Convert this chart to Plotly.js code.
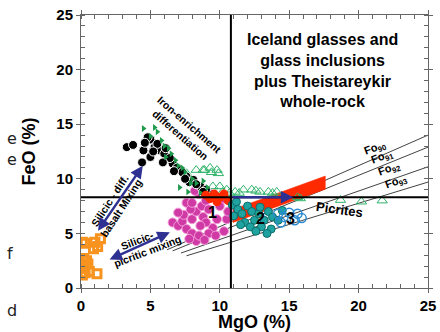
<!DOCTYPE html>
<html>
<head>
<meta charset="utf-8">
<script src="https://cdn.plot.ly/plotly-3.0.1.min.js"></script>
<style>html,body{margin:0;padding:0;background:#fff;}#chart{width:440px;height:332px;}</style>
</head>
<body>
<div id="chart"></div>
<script>
// ---- data ----
const orangeMgO = [0.1,0.3,0.9,1.0,1.4,1.2,0.1,0.2,0.4,0.5,0.3,0.1,0.6,1.15,0.2,0.05];
const orangeFeO = [4.2,4.1,3.6,4.2,4.5,3.8,2.2,1.8,2.5,2.2,1.4,1.2,1.5,1.3,2.7,1.8];

const blackMgO = [3.3,3.75,4.5,4.4,5.0,5.3,5.7,6.2,6.6,7.1,7.6,8.1,8.6,5.0,4.8,5.5,6.0,6.4,6.9,7.3,7.8,8.3,9.0,5.2,5.9,6.7,7.5,8.8,4.6,6.1];
const blackFeO = [12.9,13.1,12.6,11.5,13.6,12.9,12.6,12.0,11.4,10.8,10.2,9.9,9.3,12.0,13.8,13.2,12.3,11.9,11.0,10.6,9.7,9.5,9.0,12.5,11.5,10.7,10.0,8.8,13.3,12.8];

const greenMgO = [4.5,5.5,5.0,6.0,6.5,7.0,7.1,7.5,8.0,8.3,7.7,8.6,9.1,5.8,6.3,6.8,7.3,7.9,8.8,9.4,6.1,5.3];
const greenFeO = [14.6,14.3,13.9,13.0,12.3,11.2,9.2,10.6,10.0,9.6,8.8,8.7,9.2,13.5,12.8,11.7,11.0,9.6,9.8,8.6,12.0,14.7];

const triMgO = [7.6,8.3,8.9,9.4,9.9,9.3,9.8,10.0,10.5,9.5,10.2,10.7,11.1,11.7,12.3,12.9,13.5,14.1,15.6,15.8,18.7,20.2,21.7,8.8,11.4,12.6,13.8];
const triFeO = [10.5,10.8,10.8,10.6,10.5,11.0,10.8,9.3,9.0,9.3,8.8,8.7,8.8,9.0,9.0,8.8,8.8,8.8,8.3,8.2,8.05,7.9,8.0,10.8,8.7,8.9,8.7];

const magMgO = [6.6,7.0,7.3,7.6,8.0,8.3,8.5,8.0,8.3,8.7,9.0,8.8,9.2,9.5,9.8,9.2,10.0,10.3,9.6,8.5,8.2,7.6,7.9,7.4,9.0,9.7,10.3,10.5,8.6,9.3,10.6,8.0,7.0,7.8,8.9];
const magFeO = [6.0,5.7,6.1,5.4,5.0,4.3,4.8,6.3,7.0,7.5,8.0,6.5,7.2,5.5,6.3,5.0,7.5,8.2,8.5,8.6,8.9,7.8,7.2,6.7,6.0,4.8,5.2,6.3,5.7,8.6,7.0,7.8,6.9,4.5,4.4];

const tealMgO = [10.9,11.3,11.0,11.6,12.0,12.3,12.5,11.8,12.8,13.2,13.5,13.8,12.2,13.0,14.2,13.7,11.5,14.5,12.9,11.2,13.4,12.6];
const tealFeO = [7.6,7.2,6.6,6.8,7.5,7.0,6.2,6.0,6.8,6.2,7.0,6.5,5.6,5.6,6.2,5.4,5.8,7.1,7.4,7.9,5.0,5.2];

const blueMgO = [14.2,14.6,15.0,15.4,15.9,14.4,15.6];
const blueFeO = [6.8,6.5,6.9,6.2,6.4,6.0,6.8];

const redMgO = [9.3,9.6,10.0,10.3,9.8,10.6,9.0];
const redFeO = [8.2,8.6,8.3,8.6,7.9,8.0,8.5];

// red olivine-addition band (corner points)
const bandMgO = [10.95,17.6,17.6,10.95,10.95];
const bandFeO = [6.0,9.05,10.25,7.2,6.0];

// forsterite lines: start and end points
const foNames = ['90','91','92','93'];
const foStartMgO = [6.2,6.6,7.2,7.6];
const foStartFeO = [3.5,3.4,3.2,2.95];
const foEndMgO = [25,25,25,25];
const foEndFeO = [14.0,12.9,11.1,9.7];

// reference lines
const refMgO = 10.8;
const refFeO = 8.3;

// axis ticks
const tickVals = [0,5,10,15,20,25];
const tickText = ['0','5','10','15','20','25'];

// ---- traces ----
const traces = [];
for (let i = 0; i < foNames.length; i++) {
  traces.push({x:[foStartMgO[i], foEndMgO[i]], y:[foStartFeO[i], foEndFeO[i]], mode:'lines', type:'scatter',
    line:{color:'#111', width:0.8}, hoverinfo:'skip', showlegend:false});
}
traces.push({x:bandMgO, y:bandFeO, mode:'lines', fill:'toself', fillcolor:'#ff2a00', line:{color:'#ff2a00', width:0.5}, type:'scatter', showlegend:false});
traces.push({x:orangeMgO, y:orangeFeO, mode:'markers', type:'scatter', marker:{symbol:'square-open', size:8, color:'#f7931e', line:{width:3, color:'#f7931e'}}, showlegend:false});
traces.push({x:magMgO, y:magFeO, mode:'markers', type:'scatter', marker:{symbol:'circle', size:9, color:'#d03aa5', line:{width:1, color:'#f29ad8'}}, showlegend:false});
traces.push({x:triMgO, y:triFeO, mode:'markers', type:'scatter', marker:{symbol:'triangle-up-open', size:9, color:'#2fb36a', line:{width:1, color:'#2fb36a'}}, showlegend:false});
traces.push({x:blackMgO, y:blackFeO, mode:'markers', type:'scatter', marker:{symbol:'circle', size:9, color:'#000', line:{width:1, color:'#fff'}}, showlegend:false});
traces.push({x:greenMgO, y:greenFeO, mode:'markers', type:'scatter', marker:{symbol:'triangle-right', size:6, color:'#1f9a4c', line:{width:0}}, showlegend:false});
traces.push({x:redMgO, y:redFeO, mode:'markers', type:'scatter', marker:{symbol:'circle', size:9, color:'#ff2a00', line:{width:0}}, showlegend:false});
traces.push({x:tealMgO, y:tealFeO, mode:'markers', type:'scatter', marker:{symbol:'circle', size:8, color:'#1fa3a0', line:{width:1, color:'#0d6e6c'}}, showlegend:false});
traces.push({x:blueMgO, y:blueFeO, mode:'markers', type:'scatter', marker:{symbol:'circle-open', size:9, color:'#2a8bd0', line:{width:1.5, color:'#2a8bd0'}}, showlegend:false});

const F = 'Arial, "Liberation Sans", sans-serif';
const arrowBlue = '#2e3192';

const annotations = [
  {xref:'paper', yref:'paper', x:0.697, y:0.795, text:'Iceland glasses and<br>glass inclusions<br>plus Theistareykir<br>whole-rock',
   showarrow:false, font:{family:F, size:16, color:'#000', weight:'bold'}, align:'center', xanchor:'center', yanchor:'middle'},
  {x:7.5, y:14.5, text:'Iron-enrichment<br>differentiation', showarrow:false, textangle:41, font:{family:F, size:10.5, weight:'bold', color:'#000'}},
  {x:2.5, y:7.7, text:'Silicic - diff.<br>basalt Mixing', showarrow:false, textangle:-57, font:{family:F, size:10.5, weight:'bold', color:'#000'}},
  {x:4.2, y:3.8, text:'Silicic-<br>&nbsp;&nbsp;&nbsp;&nbsp;picritic mixing', showarrow:false, textangle:-21, font:{family:F, size:10.5, weight:'bold', color:'#000'}},
  {x:18.6, y:7.2, text:'Picrites', showarrow:false, textangle:8, font:{family:F, size:13, weight:'bold', color:'#000'}},
  {x:9.5, y:6.9, text:'1', showarrow:false, font:{family:F, size:16, weight:'bold', color:'#000'}},
  {x:12.9, y:6.4, text:'2', showarrow:false, font:{family:F, size:16, weight:'bold', color:'#000'}},
  {x:15.1, y:6.4, text:'3', showarrow:false, font:{family:F, size:16, weight:'bold', color:'#000'}},
  // arrows
  {x:4.45, y:11.2, ax:1.15, ay:5.1, axref:'x', ayref:'y', text:'', showarrow:true, arrowhead:2, startarrowhead:2, arrowside:'end+start', arrowsize:1, startarrowsize:1, arrowwidth:2.5, arrowcolor:arrowBlue},
  {x:6.4, y:5.1, ax:1.95, ay:2.55, axref:'x', ayref:'y', text:'', showarrow:true, arrowhead:2, startarrowhead:2, arrowside:'end+start', arrowsize:1, startarrowsize:1, arrowwidth:2.5, arrowcolor:arrowBlue},
  {x:15.3, y:refFeO, ax:refMgO, ay:refFeO, axref:'x', ayref:'y', text:'', showarrow:true, arrowhead:2, arrowsize:1, arrowwidth:2.5, arrowcolor:arrowBlue},
  // clipped text at left edge
  {xref:'paper', yref:'paper', x:-0.218, y:0.549, text:'e', showarrow:false, font:{family:'"DejaVu Sans", sans-serif', size:16, color:'#222'}},
  {xref:'paper', yref:'paper', x:-0.218, y:0.469, text:'e', showarrow:false, font:{family:'"DejaVu Sans", sans-serif', size:16, color:'#222'}},
  {xref:'paper', yref:'paper', x:-0.218, y:0.084, text:'f', showarrow:false, font:{family:'"DejaVu Sans", sans-serif', size:16, color:'#222'}},
  {xref:'paper', yref:'paper', x:-0.218, y:-0.125, text:'d', showarrow:false, font:{family:'"DejaVu Sans", sans-serif', size:16, color:'#222'}}
];
const foLabelPos = [[21.2,12.8],[21.7,12.0],[22.2,10.9],[22.7,9.7]];
for (let i = 0; i < foNames.length; i++) {
  annotations.push({x:foLabelPos[i][0], y:foLabelPos[i][1], text:'Fo<sub>'+foNames[i]+'</sub>', showarrow:false, textangle:-20,
    font:{family:F, size:11, weight:'bold', color:'#000'}});
}

const axisCommon = {
  showline:true, linecolor:'#666', linewidth:1, mirror:'ticks', showgrid:false, zeroline:false,
  ticks:'outside', ticklen:4, tickcolor:'#666', tickwidth:1,
  minor:{dtick:1, ticks:'inside', ticklen:4, tickcolor:'#666', tickwidth:1, showgrid:false},
  tickfont:{family:F, size:15, color:'#000', weight:'bold'},
  tickvals:tickVals, ticktext:tickText, fixedrange:true
};

const layout = {
  width:440, height:332, margin:{l:81, r:12, t:15, b:44},
  paper_bgcolor:'#fff', plot_bgcolor:'#fff', showlegend:false,
  xaxis:Object.assign({}, axisCommon, {range:[0,25], title:{text:'MgO (%)', standoff:4, font:{family:F, size:18, color:'#000', weight:'bold'}}}),
  yaxis:Object.assign({}, axisCommon, {range:[0,25], title:{text:'FeO (%)', standoff:16, font:{family:F, size:18, color:'#000', weight:'bold'}}}),
  shapes:[
    {type:'line', xref:'x', yref:'paper', x0:refMgO, x1:refMgO, y0:0, y1:1, line:{color:'#000', width:2}, layer:'above'},
    {type:'line', xref:'paper', yref:'y', x0:0, x1:1, y0:refFeO, y1:refFeO, line:{color:'#000', width:2}, layer:'above'}
  ],
  annotations:annotations
};

Plotly.newPlot('chart', traces, layout, {displayModeBar:false, staticPlot:true});
</script>
</body>
</html>
